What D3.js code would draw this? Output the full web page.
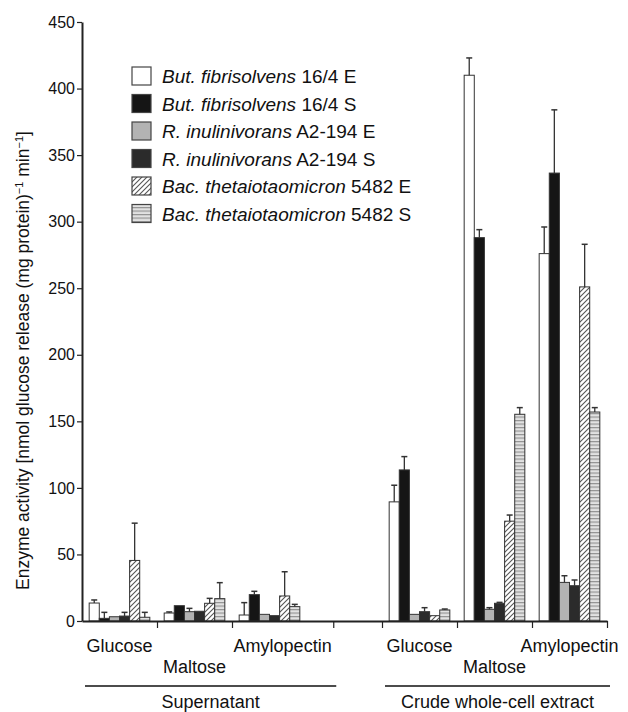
<!DOCTYPE html>
<html>
<head>
<meta charset="utf-8">
<script src="https://cdn.jsdelivr.net/npm/d3@7"></script>
<style>
  body { margin: 0; background: #fff; }
  svg { font-family: "Liberation Sans", Arial, sans-serif; }
</style>
</head>
<body>
<svg width="628" height="712"></svg>
<script>
// slots along the category axis: 3 supernatant, one empty gap, 3 crude extract
const slots = ["S-Glucose", "S-Maltose", "S-Amylopectin", "gap", "C-Glucose", "C-Maltose", "C-Amylopectin"]
const dataSlots = ["S-Glucose", "S-Maltose", "S-Amylopectin", "C-Glucose", "C-Maltose", "C-Amylopectin"]
const substrates = ["Glucose", "Maltose", "Amylopectin"]
const fractions = ["Supernatant", "Crude whole-cell extract"]
// boundaries (in slot units) of the substrate labels under each fraction
const fractionBounds = [[0, 1, 2, 3.35], [4, 5, 6, 7]]

const seriesKeys = ["bfE", "bfS", "riE", "riS", "btE", "btS"]
const seriesSpecies = ["But. fibrisolvens", "But. fibrisolvens", "R. inulinivorans", "R. inulinivorans",
    "Bac. thetaiotaomicron", "Bac. thetaiotaomicron"]
const seriesStrain = ["16/4 E", "16/4 S", "A2-194 E", "A2-194 S", "5482 E", "5482 S"]

// values per series, in dataSlots order
const bfE = [13.5, 6, 4.5, 89.5, 410, 276]
const bfS = [2, 11.5, 19.8, 113.5, 288, 336.5]
const riE = [3.2, 7, 5, 5, 8.8, 29]
const riS = [3.7, 7.3, 4, 7, 13.3, 26.5]
const btE = [45.5, 13.3, 18.8, 4, 75, 251]
const btS = [2.8, 16.8, 10.8, 8.3, 155.3, 157]

// upper error bars
const bfEerr = [2.3, 0.8, 9.3, 12.5, 13, 20]
const bfSerr = [4.5, 0.5, 2.5, 10, 6, 47.5]
const riEerr = [0, 2.5, 0.5, 0.5, 1.2, 5]
const riSerr = [2.8, 0.5, 0, 3, 0.7, 4.3]
const btEerr = [28, 3.7, 18.2, 0, 4.6, 32]
const btSerr = [3.7, 12, 1.7, 0.7, 5, 3.3]

const yTicks = [0, 50, 100, 150, 200, 250, 300, 350, 400, 450]

const valueTable = { bfE, bfS, riE, riS, btE, btS }
const errTable = { bfE: bfEerr, bfS: bfSerr, riE: riEerr, riS: riSerr, btE: btEerr, btS: btSerr }

let margin = { top: 22, left: 82, right: 21, bottom: 91 }
let width = 628 - margin.left - margin.right,
    height = 712 - margin.top - margin.bottom

let svg = d3.select("svg")

// patterns
let defs = svg.append("defs")
let diag = defs.append("pattern")
    .attr("id", "diag")
    .attr("patternUnits", "userSpaceOnUse")
    .attr("width", 5).attr("height", 5)
diag.append("rect").attr("width", 5).attr("height", 5).attr("fill", "#fff")
diag.append("path")
    .attr("d", "M-1,1 l2,-2 M0,5 l5,-5 M4,6 l2,-2")
    .attr("stroke", "#555").attr("stroke-width", 1.1)

let horiz = defs.append("pattern")
    .attr("id", "horiz")
    .attr("patternUnits", "userSpaceOnUse")
    .attr("width", 4).attr("height", 3.5)
horiz.append("rect").attr("width", 4).attr("height", 3.5).attr("fill", "#e2e2e2")
horiz.append("line")
    .attr("x1", 0).attr("x2", 4).attr("y1", 0.6).attr("y2", 0.6)
    .attr("stroke", "#8c8c8c").attr("stroke-width", 1.1)

const fills = {
    bfE: "#ffffff", bfS: "#151515", riE: "#b3b3b3",
    riS: "#2b2b2b", btE: "url(#diag)", btS: "url(#horiz)"
}

let xScale = d3.scaleBand()
    .domain(slots)
    .range([margin.left, margin.left + width])

let slotScale = d3.scaleLinear()
    .domain([0, slots.length])
    .range([margin.left, margin.left + width])

let xSub = d3.scaleBand()
    .domain(seriesKeys)
    .range([0, xScale.bandwidth()])
    .paddingOuter(0.71)

let yScale = d3.scaleLinear()
    .domain([0, 450])
    .range([margin.top + height, margin.top])

// bars
let groups = svg.append("g")
    .selectAll("g")
    .data(dataSlots)
    .enter().append("g")
    .attr("transform", d => "translate(" + xScale(d) + ",0)")

const barData = (slot, i) => seriesKeys.map(k => ({ key: k, v: valueTable[k][i], e: errTable[k][i] }))

groups.selectAll("rect")
    .data(barData)
    .enter().append("rect")
    .attr("x", d => xSub(d.key))
    .attr("y", d => yScale(d.v))
    .attr("width", xSub.bandwidth())
    .attr("height", d => yScale(0) - yScale(d.v))
    .attr("fill", d => fills[d.key])
    .attr("stroke", "#333")
    .attr("stroke-width", 1)

// error bars (upper only)
let errs = groups.selectAll("g.err")
    .data(barData)
    .enter().append("g")
    .attr("class", "err")
    .filter(d => d.e > 0.6)
errs.append("line")
    .attr("x1", d => xSub(d.key) + xSub.bandwidth() / 2)
    .attr("x2", d => xSub(d.key) + xSub.bandwidth() / 2)
    .attr("y1", d => yScale(d.v))
    .attr("y2", d => yScale(d.v + d.e))
    .attr("stroke", "#333").attr("stroke-width", 1.3)
errs.append("line")
    .attr("x1", d => xSub(d.key) + xSub.bandwidth() / 2 - 3)
    .attr("x2", d => xSub(d.key) + xSub.bandwidth() / 2 + 3)
    .attr("y1", d => yScale(d.v + d.e))
    .attr("y2", d => yScale(d.v + d.e))
    .attr("stroke", "#333").attr("stroke-width", 1.5)

// y axis
let yAxis = svg.append("g")
    .attr("transform", "translate(" + margin.left + ",0)")
    .call(d3.axisLeft(yScale).tickValues(yTicks).tickSize(5).tickPadding(2).tickSizeOuter(0))
yAxis.selectAll("text").attr("font-size", 16).attr("fill", "#111")
yAxis.selectAll("line").attr("stroke", "#222").attr("stroke-width", 1.2)
yAxis.select(".domain").attr("stroke", "#222").attr("stroke-width", 2)

// x axis
let xAxis = svg.append("g")
    .attr("transform", "translate(0," + yScale(0) + ")")
    .call(d3.axisBottom(slotScale)
        .tickValues(fractionBounds.flat().filter(v => v > 0))
        .tickFormat("").tickSize(7).tickSizeOuter(0))
xAxis.selectAll("line").attr("stroke", "#222").attr("stroke-width", 1.2)
xAxis.select(".domain").attr("stroke", "#222").attr("stroke-width", 2)

// substrate labels, alternating rows
fractionBounds.forEach((b, f) => {
    substrates.forEach((s, i) => {
        svg.append("text")
            .attr("x", slotScale((b[i] + b[i + 1]) / 2))
            .attr("y", i === 1 ? 673 : 652)
            .attr("text-anchor", "middle")
            .attr("font-size", 18)
            .attr("fill", "#111")
            .text(s)
    })
    svg.append("line")
        .attr("x1", slotScale(b[0]) + 3)
        .attr("x2", slotScale(b[b.length - 1]) + 3)
        .attr("y1", 686).attr("y2", 686)
        .attr("stroke", "#111").attr("stroke-width", 1.5)
    svg.append("text")
        .attr("x", (slotScale(b[0]) + slotScale(b[b.length - 1])) / 2 + 3)
        .attr("y", 708)
        .attr("text-anchor", "middle")
        .attr("font-size", 18)
        .attr("fill", "#111")
        .text(fractions[f])
})

// y axis title, drawn upward from the bottom end
let yTitle = svg.append("text")
    .attr("transform", "translate(29,590) rotate(-90)")
    .attr("text-anchor", "start")
    .attr("font-size", 17.5)
    .attr("fill", "#111")
yTitle.append("tspan").text("Enzyme activity [nmol glucose release (mg protein)")
yTitle.append("tspan").attr("font-size", 11).attr("dy", -6).text("−1")
yTitle.append("tspan").attr("dy", 6).text(" min")
yTitle.append("tspan").attr("font-size", 11).attr("dy", -6).text("−1")
yTitle.append("tspan").attr("dy", 6).text("]")

// legend
const legends = svg.append("g")
    .attr("transform", "translate(132, 67)")

legends.selectAll("rect")
    .data(seriesKeys)
    .enter().append("rect")
    .attr("x", 0)
    .attr("y", (d, i) => i * 27.5)
    .attr("width", 19)
    .attr("height", 18)
    .attr("fill", d => fills[d])
    .attr("stroke", "#444")
    .attr("stroke-width", 1.2)

let legText = legends.selectAll("text")
    .data(seriesKeys)
    .enter().append("text")
    .attr("x", 30)
    .attr("y", (d, i) => i * 27.5 + 16)
    .attr("font-size", 19)
    .attr("fill", "#111")
legText.append("tspan").attr("font-style", "italic").text((d, i) => seriesSpecies[i])
legText.append("tspan").text((d, i) => " " + seriesStrain[i])
</script>
</body>
</html>
